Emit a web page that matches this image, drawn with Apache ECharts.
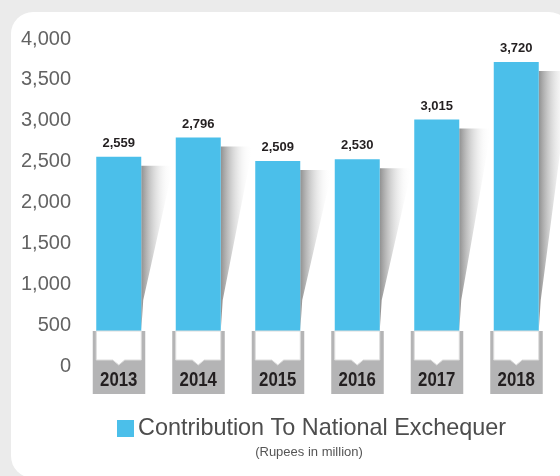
<!DOCTYPE html>
<html>
<head>
<meta charset="utf-8">
<script src="https://cdn.jsdelivr.net/npm/echarts@6/dist/echarts.min.js"></script>
<style>html,body{margin:0;padding:0;background:#ebebeb;}#c{width:560px;height:476px;}</style>
</head>
<body>
<div id="c"></div>
<script>
var years = ['2013', '2014', '2015', '2016', '2017', '2018'];
var values = [2559, 2796, 2509, 2530, 3015, 3720];
var yTicks = [0, 500, 1000, 1500, 2000, 2500, 3000, 3500, 4000];
var seriesName = 'Contribution To National Exchequer';
var unitNote = '(Rupees in million)';

var BLUE = '#4bbfea';
var chart = echarts.init(document.getElementById('c'));
var idx = years.map(function (y, i) { return [i, values[i]]; });

function fmt(v) { return String(v).replace(/\B(?=(\d{3})+(?!\d))/g, ','); }

chart.setOption({
  backgroundColor: '#ebebeb',
  animation: false,
  graphic: [
    { type: 'rect', z: -10, shape: { x: 11, y: 12, width: 560, height: 466, r: 22 }, style: { fill: '#ffffff' } },
    { type: 'text', z: 10, x: 309, y: 452,
      style: { text: unitNote, align: 'center', verticalAlign: 'middle', fill: '#555555', font: '13px "Liberation Sans", Arial, sans-serif' } }
  ],
  grid: { left: 79, right: 4, top: 39, bottom: 110 },
  legend: {
    data: [seriesName],
    left: 112, top: 412,
    icon: 'rect', itemWidth: 17, itemHeight: 17, itemGap: 10,
    textStyle: { fontSize: 23.4, color: '#4d4d4d', fontFamily: '"Liberation Sans", Arial, sans-serif', padding: [0, 0, 0, -1] }
  },
  xAxis: {
    type: 'category', data: years,
    axisLine: { show: false }, axisTick: { show: false }, axisLabel: { show: false }
  },
  yAxis: {
    type: 'value', min: yTicks[0], max: yTicks[yTicks.length - 1], interval: yTicks[1] - yTicks[0],
    axisLine: { show: false }, axisTick: { show: false }, splitLine: { show: false },
    axisLabel: { formatter: function (v) { return fmt(v); }, fontSize: 20, color: '#636363', margin: 8,
      fontFamily: '"Liberation Sans", Arial, sans-serif' }
  },
  series: [
    {
      type: 'custom', name: 'shadow', z: 1, silent: true, clip: false,
      data: idx,
      renderItem: function (params, api) {
        var i = api.value(0);
        var top = api.coord([i, api.value(1)]);
        var base = api.coord([i, 0]);
        var R = top[0] + 22.5;
        var t = top[1] + 9;
        var b = base[1] - 66;
        return {
          type: 'polygon',
          shape: { points: [[R, t], [R + 32, t], [R + 2, b], [R, b + 30], [R, t]] },
          style: {
            fill: new echarts.graphic.LinearGradient(0, 0, 1, 0, [
              { offset: 0, color: 'rgba(125,125,125,0.85)' },
              { offset: 0.35, color: 'rgba(175,175,175,0.55)' },
              { offset: 0.75, color: 'rgba(230,230,230,0.2)' },
              { offset: 1, color: 'rgba(255,255,255,0)' }
            ])
          }
        };
      }
    },
    {
      type: 'bar', name: seriesName, data: values, barWidth: 45, z: 2,
      itemStyle: { color: BLUE },
      label: { show: true, position: 'top', distance: 7, formatter: function (p) { return fmt(p.value); },
        fontSize: 13, fontWeight: 'bold', color: '#231f20', fontFamily: '"Liberation Sans", Arial, sans-serif' }
    },
    {
      type: 'custom', name: 'yearbox', z: 5, silent: true, clip: false,
      data: idx,
      renderItem: function (params, api) {
        var i = api.value(0);
        var base = api.coord([i, 0]);
        var cx = base[0];
        var y0 = base[1] - 35;
        var left = cx - 26, right = cx + 26.5;
        return {
          type: 'group',
          children: [
            { type: 'rect', shape: { x: left, y: y0, width: right - left, height: 63 }, style: { fill: '#b4b4b5' } },
            { type: 'polygon', shape: { points: [[cx - 22.5, y0], [cx + 22.5, y0], [cx + 22.5, y0 + 29], [cx + 6, y0 + 29], [cx, y0 + 34], [cx - 6, y0 + 29], [cx - 22.5, y0 + 29]] },
              style: { fill: '#ffffff', stroke: '#dcdcdc', lineWidth: 1 } },
            { type: 'text', x: cx, y: y0 + 49, scaleX: 0.8, scaleY: 1,
              style: { text: years[i], x: 0, y: 0, align: 'center', verticalAlign: 'middle',
              fill: '#231f20', font: 'bold 21px "Liberation Sans", Arial, sans-serif' } }
          ]
        };
      }
    }
  ]
});
</script>
</body>
</html>
